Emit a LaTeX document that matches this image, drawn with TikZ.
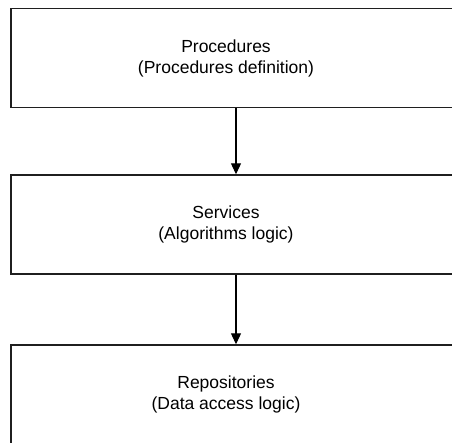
\documentclass[tikz,border=0pt]{standalone}
\usepackage{fontspec}
\setmainfont{Liberation Sans}
\usetikzlibrary{arrows.meta}
\begin{document}
\begin{tikzpicture}[x=1pt,y=-1pt,
  layerbox/.style={draw=black!88, line width=1.4pt, fill=white, minimum width=450pt, minimum height=99pt, inner sep=0pt},
  layertext/.style={align=center, inner sep=0pt, font=\fontsize{17.5}{21}\selectfont},
  flow/.style={draw=black, line width=1.1pt, -{Triangle[width=10pt,length=11pt]}}]
\useasboundingbox (0,0) rectangle (452,442);
\node[layerbox] (proc) at (236,58) {};
\node[layerbox] (serv) at (236,224.5) {};
\node[layerbox] (repo) at (236,394.5) {};
\node[layertext] (proct) at (226,58) {Procedures\\(Procedures definition)};
\node[layertext] (servt) at (226,224.5) {Services\\(Algorithms logic)};
\node[layertext] (repot) at (226,394.5) {Repositories\\(Data access logic)};
\draw[flow] (proc.south) -- (serv.north);
\draw[flow] (serv.south) -- (repo.north);
\end{tikzpicture}
\end{document}
